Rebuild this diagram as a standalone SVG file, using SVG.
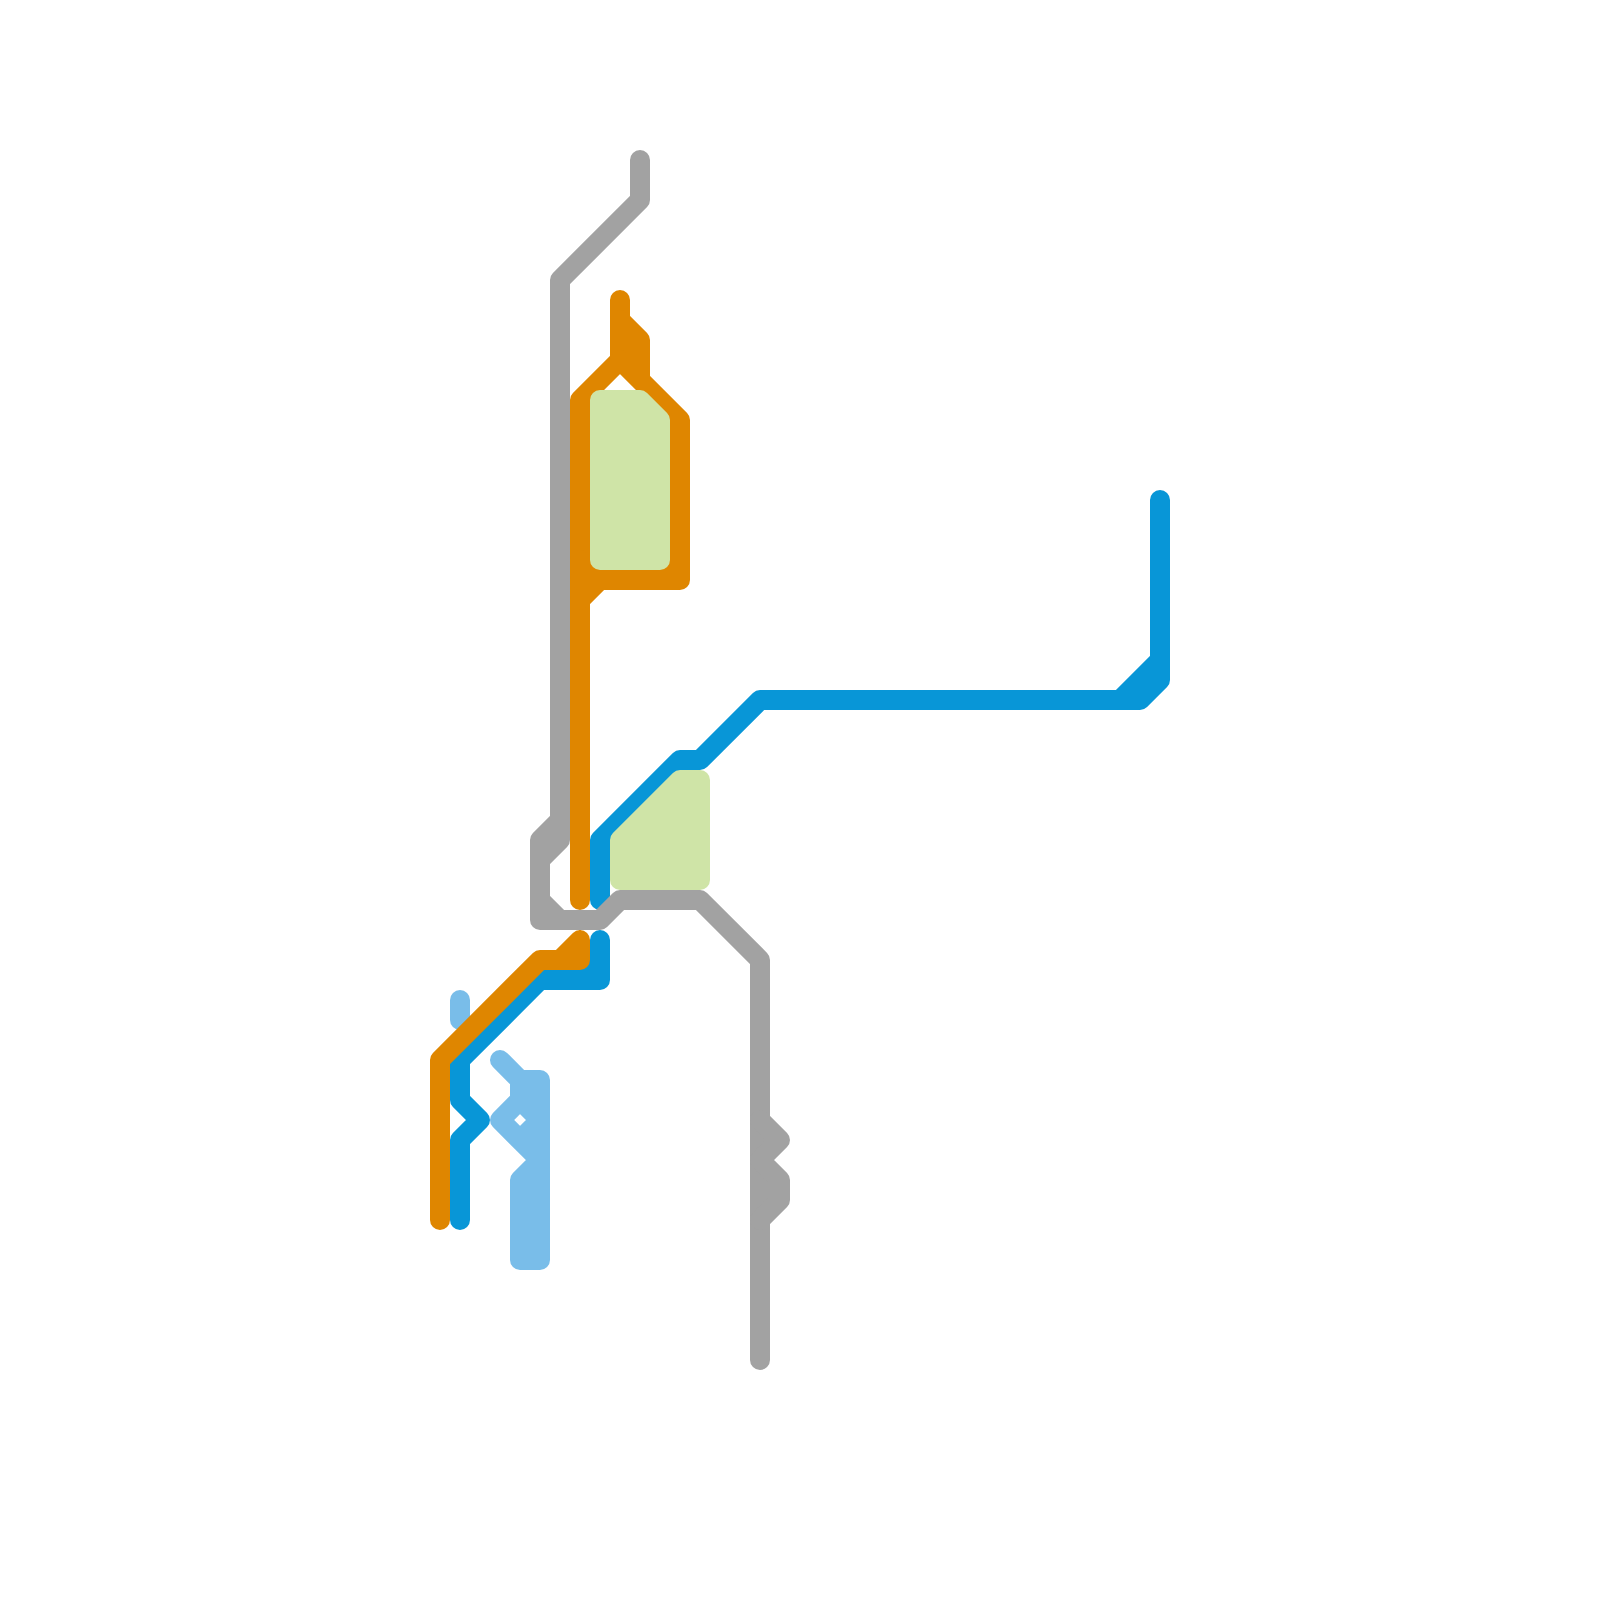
<svg xmlns="http://www.w3.org/2000/svg" width="1600" height="1600" viewBox="0 0 1600 1600">
  <style>
    .l { fill: none; stroke-width: 20; stroke-linecap: round; stroke-linejoin: round; }
    .area { fill: #cfe4a7; stroke: #cfe4a7; stroke-width: 20; stroke-linejoin: round; }
    .orange { stroke: #df8600; }
    .blue { stroke: #0896d7; }
    .sky { stroke: #79bde9; }
    .gray { stroke: #a2a2a2; }
  </style>
  <rect width="1600" height="1600" fill="#ffffff"/>
  <g id="connectors">
    <g id="line-sky">
      <path class="l sky" d="M460 1000L460 1020"/>
      <path class="l sky" d="M500 1060L520 1080L540 1080L540 1260L520 1260L520 1180L540 1160L500 1120L520 1100L520 1080M520 1100L540 1120L520 1140"/>
    </g>
    <g id="line-blue">
      <path class="l blue" d="M600 900L600 840L680 760L700 760L760 700L1140 700L1160 680L1160 500M1120 700L1160 660"/>
      <path class="l blue" d="M600 940L600 980L540 980L460 1060L460 1100L480 1120L460 1140L460 1220M600 960L580 980"/>
    </g>
    <g id="line-gray">
      <path class="l gray" d="M640 160L640 200L560 280L560 840L540 860L540 920L600 920L620 900L700 900L760 960L760 1360M560 820L540 840L540 860M540 900L560 920"/>
      <path class="l gray" d="M760 1120L780 1140L760 1160L780 1180L780 1200L760 1220"/>
    </g>
    <g id="line-orange">
      <path class="l orange" d="M620 300L620 360L580 400L580 900"/>
      <path class="l orange" d="M620 320L640 340L640 380L680 420L680 580L580 580M600 580L580 600M620 360L640 380M580 560L600 580M660 580L680 560"/>
      <path class="l orange" d="M580 940L580 960L540 960L440 1060L440 1220M580 940L560 960"/>
    </g>
  </g>
  <g id="areas">
    <path class="area" d="M600 400L640 400L660 420L660 560L600 560Z"/>
    <path class="area" d="M620 840L680 780L700 780L700 880L620 880Z"/>
  </g>
</svg>
